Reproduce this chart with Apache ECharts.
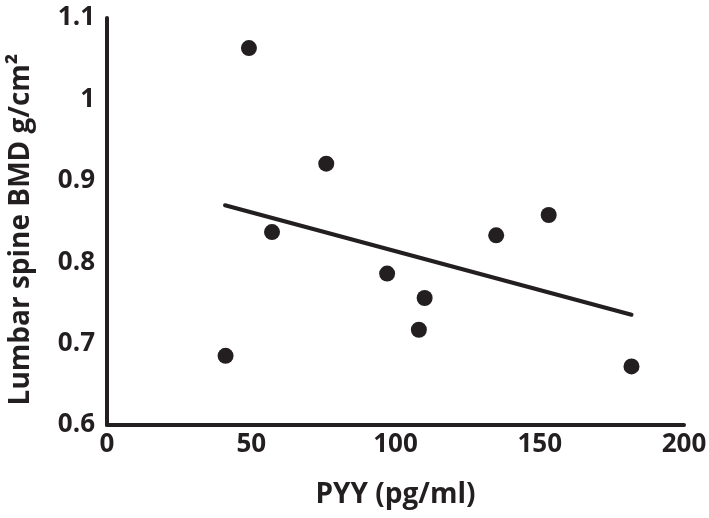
<!DOCTYPE html>
<html>
<head>
<meta charset="utf-8">
<script src="https://cdn.jsdelivr.net/npm/echarts@6/dist/echarts.min.js"></script>
<style>html,body{margin:0;padding:0;background:#fff}#c{width:709px;height:518px}</style>
</head>
<body>
<div id="c"></div>
<script>
const pyy = [49.2, 76.0, 57.2, 97.1, 41.1, 110.1, 108.1, 134.9, 153.1, 181.8];
const bmd = [1.063, 0.921, 0.837, 0.786, 0.685, 0.756, 0.717, 0.833, 0.858, 0.672];
const trendX = [40.9, 181.8];
const trendY = [0.870, 0.7355];
const xTicks = [0, 50, 100, 150, 200];
const yTicks = [0.6, 0.7, 0.8, 0.9, 1, 1.1];

const ink = '#231f20';
const font = '"Open Sans", "Liberation Sans", sans-serif';
const chart = echarts.init(document.getElementById('c'));
chart.setOption({
  animation: false,
  backgroundColor: '#fff',
  grid: { left: 107, top: 18, right: 25, bottom: 93, containLabel: false, outerBoundsMode: 'none' },
  xAxis: {
    type: 'value', min: 0, max: 200, interval: 50,
    name: 'PYY (pg/ml)', nameLocation: 'middle', nameGap: 56,
    nameTextStyle: { fontFamily: font, fontWeight: 'bold', fontSize: 28, color: ink },
    axisLine: { show: true, lineStyle: { color: ink, width: 4 } },
    axisTick: { show: false },
    splitLine: { show: false },
    axisLabel: { fontFamily: font, fontWeight: 'bold', fontSize: 26, color: ink, margin: 7,
      formatter: v => xTicks.includes(v) ? String(v) : '' }
  },
  yAxis: {
    type: 'value', min: 0.6, max: 1.1, interval: 0.1,
    name: 'Lumbar spine BMD g/cm²', nameLocation: 'middle', nameGap: 72,
    nameTextStyle: { fontFamily: font, fontWeight: 'bold', fontSize: 28, color: ink, padding: [0, 16, 0, 0] },
    axisLine: { show: true, lineStyle: { color: ink, width: 4 } },
    axisTick: { show: false },
    splitLine: { show: false },
    axisLabel: { fontFamily: font, fontWeight: 'bold', fontSize: 26, color: ink, margin: 12,
      formatter: v => { const t = yTicks.find(k => Math.abs(k - v) < 1e-6); return t === undefined ? '' : String(t); } }
  },
  series: [
    {
      type: 'line',
      data: trendX.map((x, i) => [x, trendY[i]]),
      symbol: 'none',
      lineStyle: { color: ink, width: 4, cap: 'round' },
      z: 2
    },
    {
      type: 'scatter',
      data: pyy.map((x, i) => [x, bmd[i]]),
      symbol: 'circle', symbolSize: 16,
      itemStyle: { color: ink, opacity: 1 },
      z: 3
    }
  ]
});
</script>
</body>
</html>
